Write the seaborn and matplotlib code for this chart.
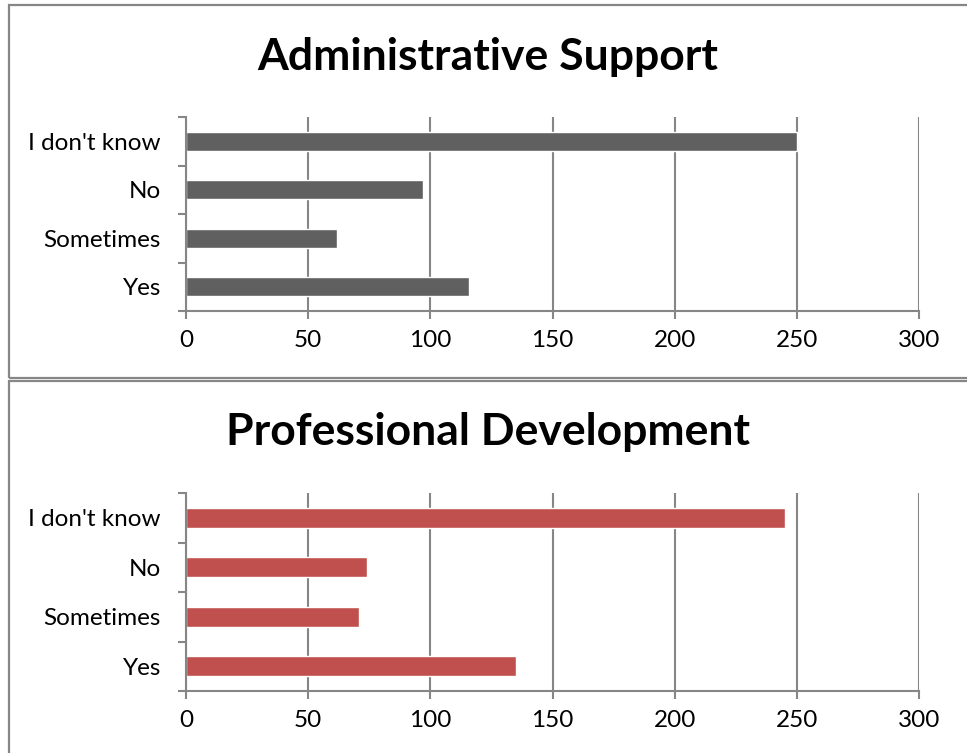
#!/usr/bin/env python3
import pandas as pd
import matplotlib
matplotlib.use("Agg")
import matplotlib.pyplot as plt
from matplotlib.patches import Rectangle
from matplotlib.ticker import FixedLocator
import seaborn as sns

sns.set_style("white")
plt.rcParams['font.family'] = ['Lato', 'DejaVu Sans']

RESPOSTAS = ["I don't know", "No", "Sometimes", "Yes"]
ADMIN_SUPPORT = [250, 97, 62, 116]
PROF_DEVELOPMENT = [245, 74, 71, 135]
X_TICKS = [0, 50, 100, 150, 200, 250, 300]

CINZA = '#868686'
W, H = 967, 753


def painel(fig, rect_ax, titulo, titulo_y, valores, cor):
    ax = fig.add_axes(rect_ax)
    df = pd.DataFrame({'resposta': RESPOSTAS, 'valor': valores})
    sns.barplot(data=df, y='resposta', x='valor', order=RESPOSTAS, orient='h',
                color=cor, saturation=1, width=0.4, ax=ax)
    ax.set_xlim(0, 300)
    ax.set_ylim(3.5, -0.5)
    ax.set_xticks(X_TICKS)
    ax.set_xticklabels([str(t) for t in X_TICKS])
    ax.set_xlabel('')
    ax.set_ylabel('')
    ax.grid(axis='x', color=CINZA, linewidth=1.5)
    ax.set_axisbelow(True)
    for lado in ['top', 'right']:
        ax.spines[lado].set_visible(False)
    for lado in ['left', 'bottom']:
        ax.spines[lado].set_color(CINZA)
        ax.spines[lado].set_linewidth(1.5)
    # marcas entre categorias, como no Excel
    ax.yaxis.set_minor_locator(FixedLocator([-0.5, 0.5, 1.5, 2.5, 3.5]))
    ax.tick_params(axis='y', which='major', length=0, pad=18, labelsize=17.5, labelcolor='black')
    ax.tick_params(axis='y', which='minor', length=6, width=1.5, color=CINZA, direction='out', left=True)
    ax.tick_params(axis='x', which='major', length=6, width=1.5, color=CINZA, direction='out',
                   bottom=True, pad=8, labelsize=17.5, labelcolor='black')
    fig.text(488 / W, 1 - titulo_y / H, titulo, ha='center', va='center',
             fontsize=32, fontweight='bold', color='black')
    return ax


fig = plt.figure(figsize=(W / 100, H / 100), dpi=100)

# molduras dos dois gráficos
fig.patches.append(Rectangle((8.5 / W, 1 - 377.5 / H), (W + 10) / W, (377.5 - 5) / H,
                             transform=fig.transFigure, fill=False, edgecolor=CINZA, linewidth=1.6))
fig.patches.append(Rectangle((8.5 / W, 1 - (H + 10) / H), (W + 10) / W, (H + 10 - 381) / H,
                             transform=fig.transFigure, fill=False, edgecolor=CINZA, linewidth=1.6))

painel(fig, [186 / W, 1 - 311 / H, 733 / W, 194 / H], 'Administrative Support', 57,
       ADMIN_SUPPORT, '#606060')
painel(fig, [186 / W, 1 - 691 / H, 733 / W, 198 / H], 'Professional Development', 432,
       PROF_DEVELOPMENT, '#C0504D')

plt.savefig('out.png', dpi=100)
